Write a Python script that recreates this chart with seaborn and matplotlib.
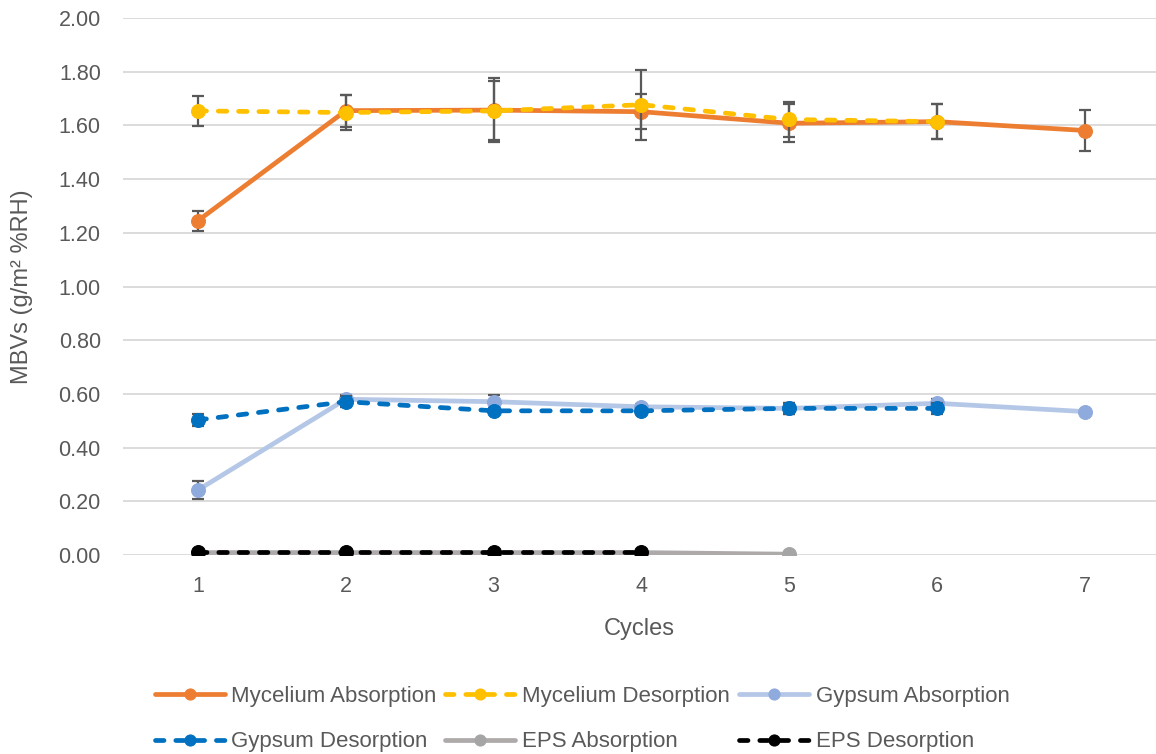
import matplotlib
matplotlib.use("Agg")
import matplotlib.pyplot as plt
import seaborn as sns
import pandas as pd

# ---- data ----
cycles = [1, 2, 3, 4, 5, 6, 7]
myc_abs = [1.245, 1.655, 1.657, 1.651, 1.608, 1.614, 1.581]
myc_abs_err = [0.037, 0.060, 0.120, 0.065, 0.070, 0.066, 0.075]
myc_des = [1.654, 1.648, 1.654, 1.677, 1.622, 1.614]
myc_des_err = [0.057, 0.065, 0.110, 0.130, 0.065, 0.066]
gyp_abs = [0.242, 0.580, 0.571, 0.552, 0.546, 0.565, 0.534]
gyp_abs_err = [0.033, 0.015, 0.025, 0.010, 0.020, 0.015, 0.005]
gyp_des = [0.503, 0.571, 0.537, 0.537, 0.546, 0.546]
gyp_des_err = [0.024, 0.020, 0.008, 0.008, 0.020, 0.020]
eps_abs = [0.009, 0.009, 0.009, 0.009, 0.003]
eps_des = [0.010, 0.010, 0.010, 0.010]
yticks = [0.0, 0.2, 0.4, 0.6, 0.8, 1.0, 1.2, 1.4, 1.6, 1.8, 2.0]

sns.set_theme(style="white")
plt.rcParams['font.family'] = ['Liberation Sans', 'DejaVu Sans']

fig = plt.figure(figsize=(11.56, 7.54), dpi=100)
W, H = 1156, 754
ax = fig.add_axes([123 / W, (H - 555) / H, (1156 - 123) / W, (555 - 18) / H])

errc = "#595959"
txtc = "#595959"
series = [
    ("Mycelium Absorption", myc_abs, myc_abs_err, "#ED7D31", "#ED7D31", "-"),
    ("Mycelium Desorption", myc_des, myc_des_err, "#FFC000", "#FFC000", "--"),
    ("Gypsum Absorption", gyp_abs, gyp_abs_err, "#B4C7E7", "#8FAADC", "-"),
    ("Gypsum Desorption", gyp_des, gyp_des_err, "#0070C0", "#0070C0", "--"),
    ("EPS Absorption", eps_abs, None, "#AEAAAA", "#A5A5A5", "-"),
    ("EPS Desorption", eps_des, None, "#000000", "#000000", "--"),
]

handles = {}
for z, (name, vals, err, lc, mc, ls) in enumerate(series):
    x = cycles[:len(vals)]
    df = pd.DataFrame({"Cycles": x, "MBV": vals})
    if err is not None:
        ax.errorbar(x, vals, yerr=err, fmt="none", ecolor=errc, elinewidth=1.6,
                    capsize=4.5, capthick=1.6, zorder=2 + z)
    sns.lineplot(data=df, x="Cycles", y="MBV", ax=ax, color=lc, linewidth=3.4,
                 linestyle=ls, marker="o", markersize=10, markerfacecolor=mc,
                 markeredgecolor=mc, zorder=3 + z, label=name)
    line = ax.get_lines()[-1]
    if ls == "--":
        line.set_dashes((1.8, 2.5))
        line.set_dash_capstyle("round")
    handles[name] = line

ax.set_xlim(0.493, 7.48)
ax.set_ylim(0, 2.0)
ax.set_yticks(yticks)
ax.set_yticklabels([f"{v:.2f}" for v in yticks])
ax.set_xticks(cycles)
ax.grid(axis="y", color="#D9D9D9", linewidth=1.3)
ax.grid(axis="x", visible=False)
ax.set_axisbelow(True)
for s in ax.spines.values():
    s.set_visible(False)
ax.tick_params(axis="both", length=0, labelsize=15.5, colors=txtc)
ax.tick_params(axis="y", pad=16)
ax.tick_params(axis="x", pad=15)
ax.set_xlabel("Cycles", fontsize=17, color=txtc, labelpad=15)
ax.set_ylabel("MBVs (g/m² %RH)", fontsize=17, color=txtc)
ax.yaxis.set_label_coords((33 - 123) / 1033, 0.5)

order = ["Mycelium Absorption", "Gypsum Desorption", "Mycelium Desorption",
         "EPS Absorption", "Gypsum Absorption", "EPS Desorption"]
ax.legend([handles[n] for n in order], order, ncol=3, frameon=False,
          loc="center", bbox_to_anchor=(582 / W, (H - 719) / H),
          bbox_transform=fig.transFigure, fontsize=16, handlelength=3.15,
          handletextpad=0.3, columnspacing=0.4, labelspacing=1.12,
          markerscale=0.8, labelcolor=txtc)

fig.savefig("out.png", dpi=100)
